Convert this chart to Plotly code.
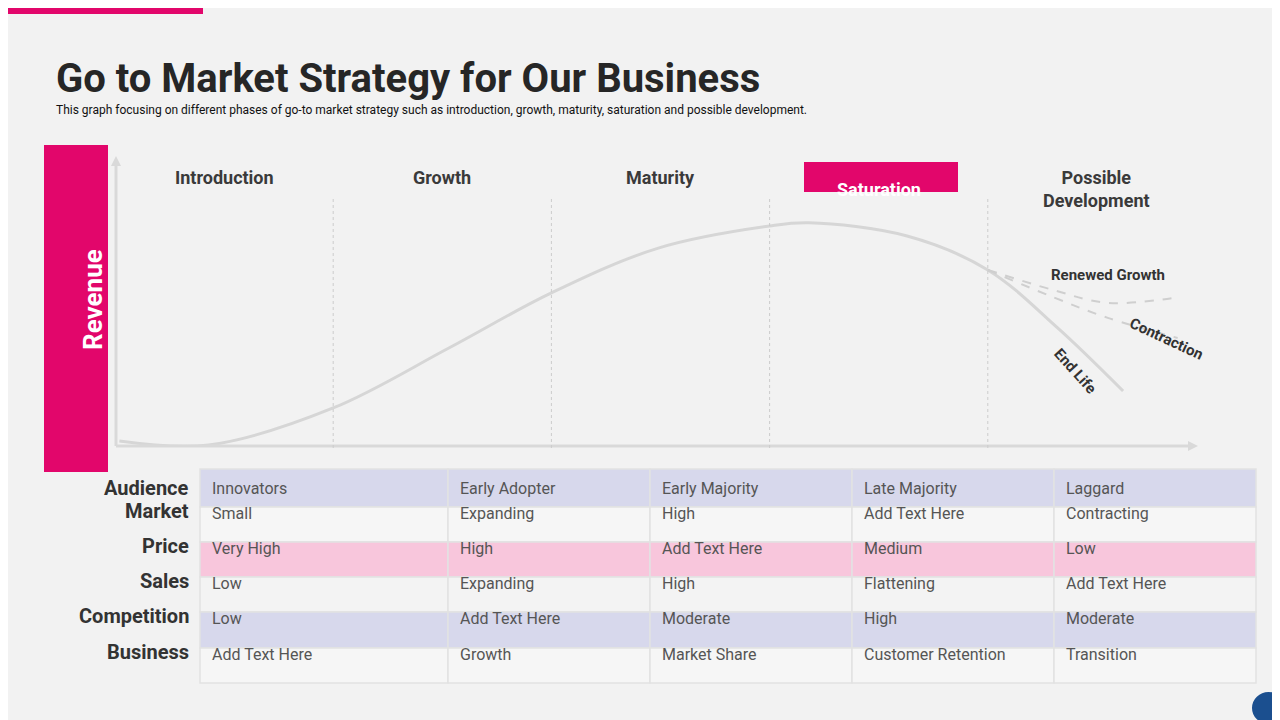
import plotly.graph_objects as go

# phases and the revenue curve (x in phase units, revenue in %)
phases = ["Introduction", "Growth", "Maturity", "Saturation", "Possible<br>Development"]
curve_t = [0.02, 0.43, 1.0, 1.53, 2.0, 2.49, 3.0, 3.18, 3.63, 4.0, 4.32, 4.62]
curve_v = [1.4, 0.0, 12.9, 33.8, 53.0, 68.6, 76.3, 77.4, 72.8, 61.0, 40.8, 18.8]
renew_t = [4.0, 4.3, 4.55, 4.88]
renew_v = [61.0, 54.0, 49.5, 51.6]
contr_t = [4.0, 4.3, 4.55, 4.87]
contr_v = [61.0, 51.5, 44.3, 37.3]

row_labels = ["Audience", "Market", "Price", "Sales", "Competition", "Business"]
table = [
    ["Innovators", "Early Adopter", "Early Majority", "Late Majority", "Laggard"],
    ["Small", "Expanding", "High", "Add Text Here", "Contracting"],
    ["Very High", "High", "Add Text Here", "Medium", "Low"],
    ["Low", "Expanding", "High", "Flattening", "Add Text Here"],
    ["Low", "Add Text Here", "Moderate", "High", "Moderate"],
    ["Add Text Here", "Growth", "Market Share", "Customer Retention", "Transition"],
]
row_colors = ["#d7d8ec", "#f6f6f6", "#f8c6dc", "#f3f3f3", "#d7d8ec", "#f6f6f6"]

W, H = 1280, 720
PINK = "#e2066b"


def px(x):
    return x / W


def py(y):
    return 1 - y / H


fig = go.Figure()
fig.add_trace(go.Scatter(x=curve_t, y=curve_v, mode="lines", line=dict(color="#d6d6d6", width=3, shape="spline"),
                         xaxis="x", yaxis="y", hoverinfo="skip"))
for t, v in [(renew_t, renew_v), (contr_t, contr_v)]:
    fig.add_trace(go.Scatter(x=t, y=v, mode="lines", line=dict(color="#cfcfcf", width=2, dash="dash", shape="spline"),
                             xaxis="x", yaxis="y", hoverinfo="skip"))

shapes = []
ann = []
# top accent bar
shapes.append(dict(type="rect", xref="paper", yref="paper", x0=0, x1=px(195), y0=py(6), y1=1,
                   fillcolor=PINK, line_width=0))
# revenue bar
shapes.append(dict(type="rect", xref="paper", yref="paper", x0=px(37), x1=px(99), y0=py(463), y1=py(138),
                   fillcolor=PINK, line=dict(color=PINK, width=2)))
ann.append(dict(x=px(68), y=py(292), xref="paper", yref="paper", text="<b>Revenue</b>", textangle=-90,
                showarrow=False, font=dict(size=26, color="white")))
# axes
shapes.append(dict(type="line", xref="paper", yref="paper", x0=px(108), x1=px(1180), y0=py(438), y1=py(438),
                   line=dict(color="#d9d9d9", width=3)))
shapes.append(dict(type="line", xref="paper", yref="paper", x0=px(108), x1=px(108), y0=py(438), y1=py(155),
                   line=dict(color="#d9d9d9", width=3)))
ann.append(dict(x=px(1190), y=py(438), ax=-20, ay=0, xref="paper", yref="paper",
                showarrow=True, arrowhead=2, arrowcolor="#d9d9d9", arrowwidth=2, text=""))
ann.append(dict(x=px(108), y=py(148), ax=0, ay=20, xref="paper", yref="paper",
                showarrow=True, arrowhead=2, arrowcolor="#d9d9d9", arrowwidth=2, text=""))

# phase boundaries and labels
for i, name in enumerate(phases):
    if i > 0:
        shapes.append(dict(type="line", xref="x", yref="paper", x0=i, x1=i, y0=py(440), y1=py(188),
                           line=dict(color="#cccccc", width=1, dash="dot")))
    if name == "Saturation":
        shapes.append(dict(type="rect", xref="paper", yref="paper", x0=px(796), x1=px(950), y0=py(184), y1=py(154),
                           fillcolor=PINK, line_width=0))
        ann.append(dict(x=i + 0.5, y=py(169), xref="x", yref="paper", text="<b>" + name + "</b>", showarrow=False,
                        font=dict(size=18, color="white")))
    else:
        ann.append(dict(x=i + 0.5, y=py(169), xref="x", yref="paper", text="<b>" + name + "</b>", showarrow=False,
                        yanchor="top" if "<br>" in name else "middle", yshift=12 if "<br>" in name else 0,
                        font=dict(size=18, color="#3a3a3a")))

ann.append(dict(x=4.55, y=py(267), xref="x", yref="paper", text="<b>Renewed Growth</b>", showarrow=False,
                font=dict(size=15, color="#333")))
ann.append(dict(x=4.82, y=py(331), xref="x", yref="paper", text="<b>Contraction</b>", showarrow=False, textangle=25,
                font=dict(size=15, color="#333")))
ann.append(dict(x=4.4, y=py(363), xref="x", yref="paper", text="<b>End Life</b>", showarrow=False, textangle=48,
                font=dict(size=15, color="#333")))

# table
col_edges = [192, 440, 642, 844, 1046, 1248]
row_tops = [461, 499, 534, 569, 604, 640, 675]
for r, label in enumerate(row_labels):
    y0, y1 = row_tops[r], row_tops[r + 1]
    for c in range(5):
        shapes.append(dict(type="rect", xref="paper", yref="paper", x0=px(col_edges[c]), x1=px(col_edges[c + 1]),
                           y0=py(y1), y1=py(y0), fillcolor=row_colors[r], line=dict(color="#e2e2e2", width=1.5)))
        ann.append(dict(x=px(col_edges[c] + 10), y=py((y0 + y1) / 2), xref="paper", yref="paper",
                        text=table[r][c], showarrow=False, xanchor="left", font=dict(size=16, color="#555")))
    ann.append(dict(x=px(183), y=py((y0 + y1) / 2), xref="paper", yref="paper", text="<b>" + label + "</b>",
                    showarrow=False, xanchor="right", font=dict(size=20, color="#333")))

# title
ann.append(dict(x=px(46), y=py(45), xref="paper", yref="paper", text="<b>Go to Market Strategy for Our Business</b>",
                showarrow=False, xanchor="left", font=dict(size=40, color="#262626")))
ann.append(dict(x=px(46), y=py(93), xref="paper", yref="paper", showarrow=False, xanchor="left",
                text="This graph focusing on different phases of go-to market strategy such as introduction, growth, "
                     "maturity, saturation and possible development.", font=dict(size=12, color="#111")))
shapes.append(dict(type="circle", xref="paper", yref="paper", x0=px(1244), x1=px(1277), y0=py(716), y1=py(684),
                   fillcolor="#1b4f8f", line_width=0))

fig.update_layout(
    width=W, height=H, margin=dict(l=0, r=0, t=0, b=0),
    paper_bgcolor="#f2f2f2", plot_bgcolor="rgba(0,0,0,0)",
    font=dict(family="Roboto, Arial"),
    showlegend=False, shapes=shapes, annotations=ann,
    xaxis=dict(domain=[px(107), px(1198)], range=[0, 5], visible=False, fixedrange=True),
    yaxis=dict(domain=[py(437), py(150)], range=[0, 100], visible=False, fixedrange=True),
)
fig.write_html("out.html")
